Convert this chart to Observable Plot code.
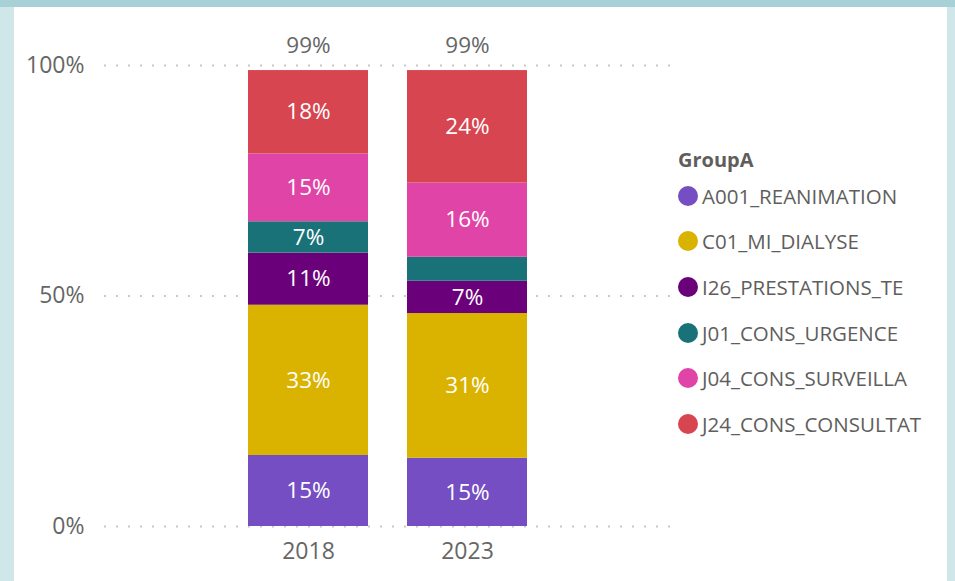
<!DOCTYPE html>
<html>
<head>
<meta charset="utf-8">
<script src="https://cdn.jsdelivr.net/npm/d3@7"></script>
<script src="https://cdn.jsdelivr.net/npm/@observablehq/plot@0.6"></script>
<style>
  html, body { margin: 0; padding: 0; }
  #page { position: relative; width: 955px; height: 581px; background: #cfe7e9; overflow: hidden; font-family: "Open Sans", "Noto Sans", sans-serif; }
  #band { position: absolute; left: 0; top: 0; width: 955px; height: 7px; background: #a7d1d7; }
  #panel { position: absolute; left: 14px; top: 7px; width: 933px; height: 574px; background: #ffffff; }
  #chart { position: absolute; left: 0; top: 0; }
  #legend { position: absolute; left: 678px; top: 147px; color: #605e5c; }
  #legend .title { font-weight: 700; font-size: 20px; height: 26px; line-height: 26px; }
  #legend .item { display: flex; align-items: center; height: 45.6px; font-size: 20.5px; }
  #legend .dot { width: 20px; height: 20px; border-radius: 50%; margin-right: 4px; flex: none; }
</style>
</head>
<body>
<div id="page">
  <div id="band"></div>
  <div id="panel"></div>
  <div id="chart"></div>
  <div id="legend"></div>
</div>
<script>
const years = ["2018", "2023"];
const groups = ["A001_REANIMATION", "C01_MI_DIALYSE", "I26_PRESTATIONS_TE", "J01_CONS_URGENCE", "J04_CONS_SURVEILLA", "J24_CONS_CONSULTAT"];
const colors = ["#744ec2", "#d9b300", "#6b007b", "#197278", "#e044a7", "#d64550"];
const share2018 = [0.154, 0.326, 0.113, 0.068, 0.147, 0.181];
const share2023 = [0.148, 0.314, 0.070, 0.052, 0.161, 0.244];
const yTicks = [0, 0.5, 1];
const legendTitle = "GroupA";

const series = [share2018, share2023];
const data = [];
years.forEach((yr, i) => groups.forEach((g, j) => data.push({year: yr, group: g, value: series[i][j]})));
const totals = years.map((yr, i) => ({year: yr, total: d3.sum(series[i])}));
const pct = d3.format(".0%");

const plot = Plot.plot({
  width: 955,
  height: 581,
  marginTop: 65,
  marginBottom: 55,
  marginLeft: 104,
  marginRight: 285,
  style: {background: "transparent", fontFamily: "'Open Sans', 'Noto Sans', sans-serif", fontSize: "22px", color: "#666666"},
  x: {domain: years, range: [208, 567], padding: 0.244, label: null},
  y: {domain: [0, 1], label: null},
  color: {domain: groups, range: colors},
  marks: [
    Plot.ruleY(yTicks, {stroke: "#c8c8c8", strokeWidth: 2, strokeDasharray: "2,10"}),
    Plot.axisY(yTicks, {tickSize: 0, tickPadding: 20, tickFormat: pct, fontSize: 23, fill: "#666666"}),
    Plot.axisX({tickSize: 0, tickPadding: 16, fontSize: 23, fill: "#666666"}),
    Plot.barY(data, Plot.stackY({x: "year", y: "value", fill: "group"})),
    Plot.text(data, Plot.stackY({x: "year", y: "value", z: "group", text: d => d.value >= 0.06 ? pct(d.value) : "", fill: "white", fontSize: 22.5})),
    Plot.text(totals, {x: "year", y: "total", text: d => pct(d.total), dy: -25, fill: "#666666", fontSize: 22.5})
  ]
});
document.getElementById("chart").appendChild(plot);

const legend = document.getElementById("legend");
const t = document.createElement("div");
t.className = "title";
t.textContent = legendTitle;
legend.appendChild(t);
groups.forEach((g, i) => {
  const it = document.createElement("div");
  it.className = "item";
  const dot = document.createElement("span");
  dot.className = "dot";
  dot.style.background = colors[i];
  const lab = document.createElement("span");
  lab.textContent = g;
  it.appendChild(dot);
  it.appendChild(lab);
  legend.appendChild(it);
});
</script>
</body>
</html>
